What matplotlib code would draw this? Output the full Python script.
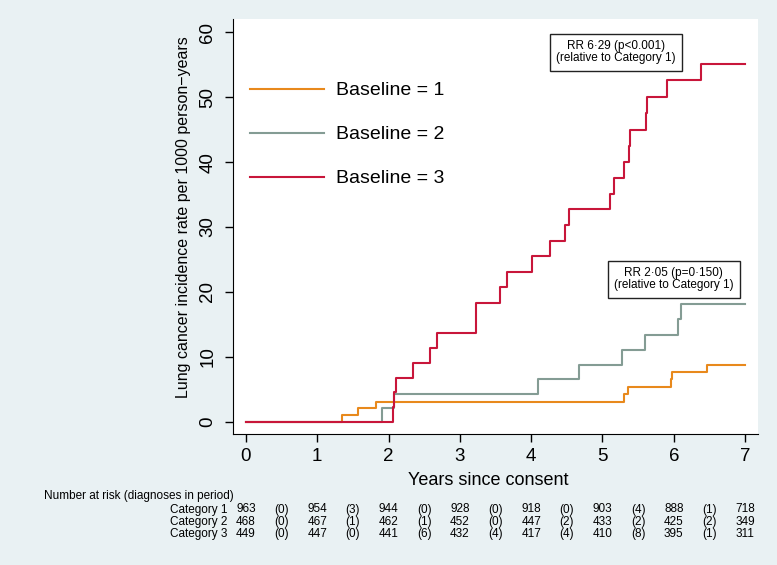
import matplotlib
matplotlib.use("Agg")
from matplotlib import pyplot as plt
from matplotlib import transforms

plt.rcParams['font.family'] = ['Liberation Sans', 'DejaVu Sans']

# step curves (years, rate per 1000 person-years)
cat1_t = [0, 1.35, 1.57, 1.83, 5.30, 5.36, 5.96, 5.975, 6.47, 7]
cat1_y = [0, 1.0, 2.1, 3.1, 4.2, 5.3, 6.5, 7.6, 8.7, 8.7]

cat2_t = [0, 1.91, 2.08, 4.10, 4.67, 5.28, 5.59, 6.06, 6.10, 7]
cat2_y = [0, 2.1, 4.3, 6.5, 8.8, 11.1, 13.4, 15.8, 18.2, 18.2]

cat3_t = [0, 2.06, 2.08, 2.10, 2.35, 2.58, 2.68, 3.23, 3.56, 3.66, 4.01, 4.26,
          4.47, 4.53, 5.11, 5.16, 5.30, 5.37, 5.39, 5.61, 5.625, 5.91, 6.38, 7]
cat3_y = [0, 2.3, 4.5, 6.8, 9.1, 11.3, 13.7, 18.3, 20.7, 23.1, 25.5, 27.9,
          30.3, 32.7, 35.1, 37.6, 40.0, 42.5, 45.0, 47.5, 50.0, 52.6, 55.1, 55.1]

labels = ["Baseline = 1", "Baseline = 2", "Baseline = 3"]
colors = ["#e8891c", "#849c94", "#c8163a"]

rr_text = ["RR 6\u00b729 (p<0.001)\n(relative to Category 1)",
           "RR 2\u00b705 (p=0\u00b7150)\n(relative to Category 1)"]
rr_pos = [(5.19, 56.95), (6.0, 21.95)]

# number at risk table
years = [0, 1, 2, 3, 4, 5, 6, 7]
row_names = ["Category 1", "Category 2", "Category 3"]
at_risk = [
  [963, 954, 944, 928, 918, 903, 888, 718],
  [468, 467, 462, 452, 447, 433, 425, 349],
  [449, 447, 441, 432, 417, 410, 395, 311],
]
diagnoses = [
  [0, 3, 0, 0, 0, 4, 1],
  [0, 1, 1, 0, 2, 2, 2],
  [0, 0, 6, 4, 4, 8, 1],
]

bg = "#e9f1f3"
W, H = 777, 565
fig = plt.figure(figsize=(W / 100, H / 100), dpi=100, facecolor=bg)
ax = fig.add_axes([233 / W, 1 - 434 / H, (758 - 233) / W, (434 - 19) / H])
ax.set_facecolor("white")

for t, y, c, lab in zip([cat1_t, cat2_t, cat3_t], [cat1_y, cat2_y, cat3_y], colors, labels):
  ax.step(t, y, where='post', color=c, lw=1.5, label=lab)

ax.set_xlim(-0.18, 7.18)
ax.set_ylim(-1.9, 62.05)
ax.set_xticks(years)
ax.set_yticks(range(0, 61, 10))
ax.tick_params(axis='both', labelsize=13.5, length=6, width=1, direction='out')
ax.tick_params(axis='x', pad=4)
ax.tick_params(axis='y', pad=6)
for lbl in ax.get_yticklabels():
  lbl.set_rotation(90)
  lbl.set_va('center')
ax.spines['top'].set_visible(False)
ax.spines['right'].set_visible(False)
ax.set_xlabel("Years since consent", fontsize=13)
ax.xaxis.set_label_coords(0.486, -0.0916)
ax.set_ylabel("Lung cancer incidence rate per 1000 person\u2212years", fontsize=11.5)
ax.yaxis.set_label_coords(-0.08, 0.523)

ax.legend(loc='upper left', bbox_to_anchor=(0.0, 0.891), frameon=False, fontsize=14,
          handlelength=3.8, handletextpad=0.6, labelspacing=1.36)

for txt, (x, y) in zip(rr_text, rr_pos):
  ax.text(x, y, txt, fontsize=8.5, ha='center', va='center', linespacing=1.0,
          bbox=dict(boxstyle='square,pad=0.55', fc='white', ec='#222222', lw=1))

# risk table under the axes, columns lined up with the years
tr = transforms.blended_transform_factory(ax.transData, fig.transFigure)
tfont = dict(fontsize=8.5, va='baseline')
fig.text(44 / W, 1 - 499 / H, "Number at risk (diagnoses in period)", ha='left', **tfont)
for r, name in enumerate(row_names):
  yf = 1 - (512.5 + r * 12.3) / H
  fig.text(227 / W, yf, name, ha='right', **tfont)
  for x, n in zip(years, at_risk[r]):
    ax.text(x, yf, str(n), ha='center', transform=tr, **tfont)
  for x, d in zip(years[:-1], diagnoses[r]):
    ax.text(x + 0.5, yf, "(%d)" % d, ha='center', transform=tr, **tfont)

fig.savefig("out.png", dpi=100, facecolor=bg)
